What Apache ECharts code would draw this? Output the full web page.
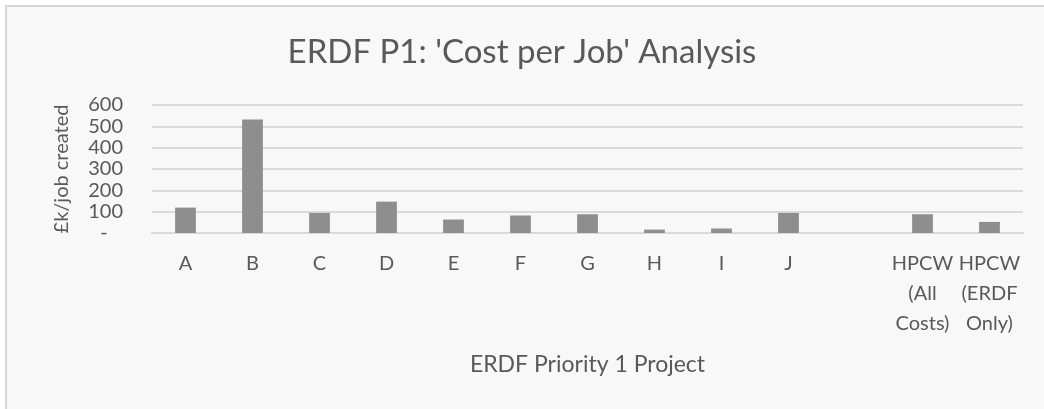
<!DOCTYPE html>
<html>
<head>
<meta charset="utf-8">
<script src="https://cdn.jsdelivr.net/npm/echarts@6/dist/echarts.min.js"></script>
<style>
  html, body { margin: 0; padding: 0; background: #ffffff; }
  #frame {
    position: absolute; left: 5px; top: 5px; width: 1039px; height: 404px;
    border-top: 2px solid #d6d6d6; border-left: 2px solid #d6d6d6;
    background: #f8f8f8; box-sizing: border-box;
  }
  #chart { position: absolute; left: 0; top: 0; width: 1044px; height: 409px; }
</style>
</head>
<body>
<div id="frame"></div>
<div id="chart"></div>
<script>
const projects = ["A", "B", "C", "D", "E", "F", "G", "H", "I", "J", "", "HPCW\n(All\nCosts)", "HPCW\n(ERDF\nOnly)"];
const costPerJob = [119, 532, 94, 147, 63, 82, 88, 16, 21, 94, null, 88, 52];
const yTicks = [0, 100, 200, 300, 400, 500, 600];

const textColor = "#595959";
const font = "Lato, 'Open Sans', sans-serif";

const chart = echarts.init(document.getElementById("chart"));
const option = {
  backgroundColor: "transparent",
  textStyle: { fontFamily: font },
  title: {
    text: "ERDF P1: 'Cost per Job' Analysis",
    left: "center",
    top: 31,
    textStyle: { color: textColor, fontSize: 33, fontWeight: "normal", fontFamily: font }
  },
  grid: { left: 152, right: 21, top: 105, bottom: 176 },
  xAxis: {
    type: "category",
    data: projects,
    name: "ERDF Priority 1 Project",
    nameLocation: "middle",
    nameGap: 120,
    nameTextStyle: { color: textColor, fontSize: 23, fontFamily: font },
    axisLine: { lineStyle: { color: "#d9d9d9", width: 2 } },
    axisTick: { show: false },
    axisLabel: {
      color: textColor, fontSize: 20, fontFamily: font,
      margin: 16, lineHeight: 30, interval: 0, verticalAlign: "top"
    }
  },
  yAxis: {
    type: "value",
    min: yTicks[0],
    max: yTicks[yTicks.length - 1],
    interval: 100,
    name: "£k/job created",
    nameLocation: "middle",
    nameGap: 80,
    nameTextStyle: { color: textColor, fontSize: 20, fontFamily: font },
    axisLine: { show: false },
    axisTick: { show: false },
    axisLabel: {
      color: textColor, fontSize: 20, fontFamily: font, margin: 29,
      formatter: v => (v === 0 ? "-   " : String(v))
    },
    splitLine: { lineStyle: { color: "#d9d9d9", width: 2 } }
  },
  series: [
    {
      type: "bar",
      data: costPerJob,
      barWidth: "31%",
      itemStyle: { color: "#8e8e8e" }
    }
  ]
};
chart.setOption(option);
</script>
</body>
</html>
